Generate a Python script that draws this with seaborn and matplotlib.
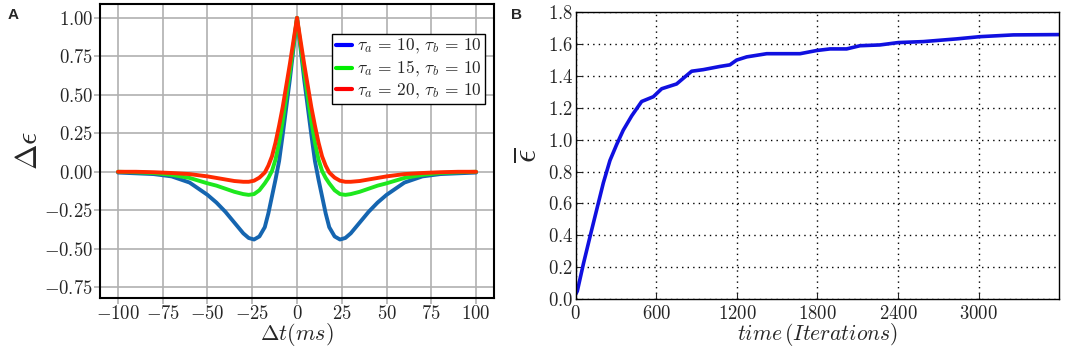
import matplotlib
matplotlib.use("Agg")
import matplotlib.pyplot as plt
from matplotlib.lines import Line2D
import seaborn as sns

# ---- panel A: STDP-like kernels ----
dt_ms = [-100, -90, -80, -70, -60, -50, -45, -40, -35, -30, -27, -24, -21, -18, -16, -14, -12, -10, -8, -6, -4, -2, 0,
         2, 4, 6, 8, 10, 12, 14, 16, 18, 21, 24, 27, 30, 35, 40, 45, 50, 60, 70, 80, 90, 100]
d_eps_10 = [-0.005, -0.01, -0.015, -0.03, -0.07, -0.15, -0.20, -0.26, -0.33, -0.40, -0.43, -0.44, -0.42, -0.36, -0.27,
            -0.16, -0.05, 0.07, 0.24, 0.42, 0.60, 0.80, 1.0,
            0.80, 0.60, 0.42, 0.24, 0.07, -0.05, -0.16, -0.27, -0.36, -0.42, -0.44, -0.43, -0.40, -0.33, -0.26, -0.20,
            -0.15, -0.07, -0.03, -0.015, -0.01, -0.005]
d_eps_15 = [0.0, -0.003, -0.008, -0.02, -0.04, -0.075, -0.09, -0.11, -0.13, -0.145, -0.15, -0.145, -0.12, -0.075, -0.04,
            0.005, 0.08, 0.19, 0.33, 0.49, 0.65, 0.82, 1.0,
            0.82, 0.65, 0.49, 0.33, 0.19, 0.08, 0.005, -0.04, -0.075, -0.12, -0.145, -0.15, -0.145, -0.13, -0.11, -0.09,
            -0.075, -0.04, -0.02, -0.008, -0.003, 0.0]
d_eps_20 = [0.0, 0.0, -0.003, -0.008, -0.015, -0.03, -0.04, -0.05, -0.06, -0.065, -0.065, -0.058, -0.038, -0.005, 0.04,
            0.10, 0.19, 0.30, 0.42, 0.56, 0.70, 0.85, 1.0,
            0.85, 0.70, 0.56, 0.42, 0.30, 0.19, 0.10, 0.04, -0.005, -0.038, -0.058, -0.065, -0.065, -0.06, -0.05, -0.04,
            -0.03, -0.015, -0.008, -0.003, 0.0, 0.0]
labels_a = [r'$\tau_a \,=\, 10,\,\tau_b \,=\, 10$', r'$\tau_a \,=\, 15,\,\tau_b \,=\, 10$',
            r'$\tau_a \,=\, 20,\,\tau_b \,=\, 10$']

# ---- panel B: mean fitness vs iterations ----
iterations = [0, 12, 57, 106, 156, 206, 255, 305, 354, 417, 491, 578, 640, 751, 863, 950, 1074, 1148, 1198, 1273,
              1422, 1670, 1794, 1893, 2017, 2116, 2265, 2402, 2588, 2836, 3010, 3258, 3600]
eps_bar = [0.03, 0.05, 0.22, 0.39, 0.56, 0.73, 0.87, 0.97, 1.06, 1.15, 1.24, 1.27, 1.32, 1.35, 1.43, 1.44, 1.46,
           1.47, 1.50, 1.52, 1.54, 1.54, 1.56, 1.57, 1.57, 1.59, 1.595, 1.61, 1.616, 1.633, 1.647, 1.658, 1.66]

sns.set_style("ticks")
plt.rcParams['font.family'] = ['Liberation Serif', 'DejaVu Serif']
plt.rcParams['mathtext.fontset'] = 'cm'

fig = plt.figure(figsize=(10.84, 3.47), dpi=100)
ax1 = fig.add_axes([0.0923, 0.1412, 0.3634, 0.8473])
ax2 = fig.add_axes([0.5311, 0.1383, 0.4461, 0.8263])

# panel A
line_cols = ['#1565b0', '#1ee81e', '#ff2a00']
for ys, c in zip([d_eps_10, d_eps_15, d_eps_20], line_cols):
    sns.lineplot(x=dt_ms, y=ys, ax=ax1, color=c, linewidth=2.8)
ax1.set_xlim(-110, 110)
ax1.set_ylim(-0.82, 1.09)
xt_a = [-100, -75, -50, -25, 0, 25, 50, 75, 100]
yt_a = [-0.75, -0.5, -0.25, 0.0, 0.25, 0.5, 0.75, 1.0]
ax1.set_xticks(xt_a)
ax1.set_xticklabels(['$%d$' % v for v in xt_a])
ax1.set_yticks(yt_a)
ax1.set_yticklabels(['$%.2f$' % v for v in yt_a])
ax1.grid(True, color='#b0b0b0', linewidth=1.2)
ax1.set_axisbelow(True)
ax1.tick_params(labelsize=13.5, direction='out', length=4, width=1.2, color='#b0b0b0', pad=1)
for s in ax1.spines.values():
    s.set_linewidth(1.5)
    s.set_color('black')
ax1.set_xlabel(r'$\Delta t(ms)$', fontsize=16)
ax1.xaxis.set_label_coords(0.5, -0.077)
ax1.set_ylabel(r'$\Delta\epsilon$', fontsize=22, labelpad=0)
handles = [Line2D([], [], color=c, linewidth=3) for c in ['#0000ff', '#00ee00', '#ff0000']]
leg = ax1.legend(handles, labels_a, loc='upper right', bbox_to_anchor=(0.977, 0.898), borderaxespad=0,
                 fontsize=12.5, handlelength=0.9, handletextpad=0.3, labelspacing=0.15, borderpad=0.2,
                 fancybox=False, framealpha=1)
leg.get_frame().set_edgecolor('black')
leg.get_frame().set_linewidth(1.0)

# panel B
sns.lineplot(x=iterations, y=eps_bar, ax=ax2, color='#1010e0', linewidth=2.6)
ax2.set_xlim(0, 3600)
ax2.set_ylim(0, 1.8)
xt_b = [0, 600, 1200, 1800, 2400, 3000]
yt_b = [0.0, 0.2, 0.4, 0.6, 0.8, 1.0, 1.2, 1.4, 1.6, 1.8]
ax2.set_xticks(xt_b)
ax2.set_xticklabels(['$%d$' % v for v in xt_b])
ax2.set_yticks(yt_b)
ax2.set_yticklabels(['$%.1f$' % v for v in yt_b])
ax2.grid(True, color='black', linestyle=(0, (1, 3)), linewidth=1.0)
ax2.tick_params(labelsize=13.5, direction='in', length=4, pad=2)
ax2.tick_params(axis='x', pad=4)
for s in ax2.spines.values():
    s.set_linewidth(1.0)
    s.set_color('black')
ax2.set_xlabel(r'$time\,(Iterations)$', fontsize=15.5)
ax2.xaxis.set_label_coords(0.5, -0.078)
ax2.set_ylabel(r'$\overline{\epsilon}$', fontsize=24)
ax2.yaxis.set_label_coords(-0.068, 0.5)

fig.text(0.007, 0.945, 'A', fontsize=11, fontweight='bold', family='Liberation Sans')
fig.text(0.471, 0.945, 'B', fontsize=11, fontweight='bold', family='Liberation Sans')

fig.savefig('out.png', dpi=100)
